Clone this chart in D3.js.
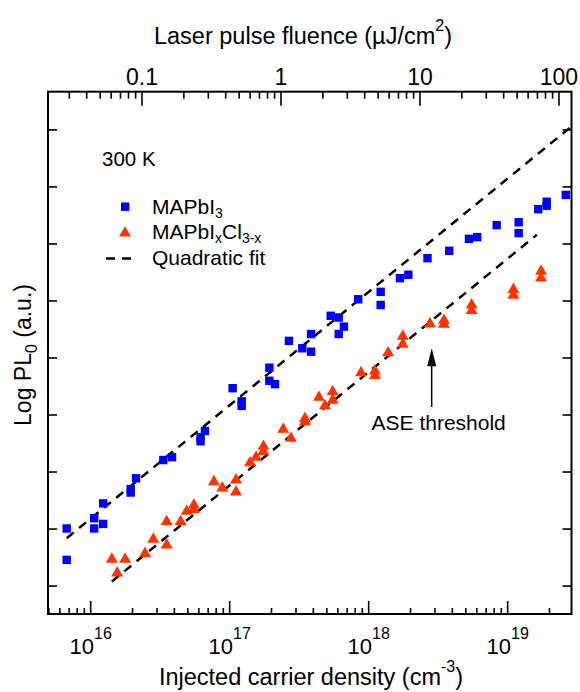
<!DOCTYPE html>
<html>
<head>
<meta charset="utf-8">
<script src="https://cdn.jsdelivr.net/npm/d3@7"></script>
<style>
  body { margin: 0; background: #fff; }
  text { font-family: "Liberation Sans", Arial, Helvetica, sans-serif; fill: #000; }
</style>
</head>
<body>
<svg id="chart" width="580" height="692"></svg>
<script>
// injected carrier density (cm^-3) and log10 of PL0 (a.u.)
const mapbi3Density = [6.72e15, 6.72e15, 1.06e16, 1.06e16, 1.23e16, 1.23e16, 1.94e16, 1.94e16, 2.12e16,
  3.33e16, 3.85e16, 6.17e16, 6.17e16, 6.64e16, 1.05e17, 1.22e17, 1.22e17, 1.93e17, 1.93e17, 2.12e17,
  2.67e17, 3.33e17, 3.85e17, 3.85e17, 5.33e17, 6.09e17, 6.64e17, 6.09e17, 8.41e17, 1.22e18, 1.22e18,
  1.68e18, 1.93e18, 2.65e18, 3.80e18, 5.27e18, 6.04e18, 8.34e18, 1.20e19, 1.20e19, 1.66e19, 1.91e19,
  1.91e19, 2.62e19];
const mapbi3LogPL = [1.01, 0.46, 1.19, 1.01, 1.09, 1.45, 1.70, 1.64, 1.89,
  2.21, 2.26, 2.61, 2.54, 2.72, 3.47, 3.24, 3.16, 3.83, 3.60, 3.54,
  4.30, 4.17, 4.42, 4.11, 4.74, 4.71, 4.55, 4.42, 5.03, 5.16, 4.93,
  5.40, 5.46, 5.75, 5.88, 6.09, 6.12, 6.33, 6.38, 6.19, 6.61, 6.74,
  6.67, 6.86];

const mixedDensity = [1.42e16, 1.55e16, 1.77e16, 2.46e16, 2.82e16, 3.52e16, 3.52e16, 4.44e16, 4.91e16,
  5.53e16, 5.53e16, 7.71e16, 8.85e16, 1.11e17, 1.11e17, 1.40e17, 1.55e17, 1.75e17, 1.75e17, 2.43e17,
  2.76e17, 3.48e17, 3.48e17, 4.39e17, 4.85e17, 5.51e17, 5.51e17, 8.81e17, 1.11e18, 1.11e18, 1.38e18,
  1.76e18, 1.76e18, 2.76e18, 3.48e18, 3.48e18, 5.51e18, 5.51e18, 1.10e19, 1.10e19, 1.74e19, 1.74e19];
const mixedLogPL = [0.49, 0.25, 0.49, 0.59, 0.84, 0.74, 1.15, 1.15, 1.33,
  1.44, 1.36, 1.85, 1.74, 1.88, 1.67, 2.18, 2.28, 2.47, 2.38, 2.77,
  2.61, 2.96, 2.90, 3.33, 3.18, 3.43, 3.28, 3.76, 3.79, 3.71, 4.11,
  4.40, 4.26, 4.62, 4.68, 4.61, 4.95, 4.85, 5.22, 5.12, 5.54, 5.42];

// quadratic fits (end points)
const fitUpperDensity = [6.72e15, 2.88e19];
const fitUpperLogPL = [0.84, 8.06];
const fitLowerDensity = [1.42e16, 1.62e19];
const fitLowerLogPL = [0.08, 6.16];

const densityDomain = [4.93e15, 2.88e19];
const logPLDomain = [-0.49, 8.67];
const logPLTicks = [0, 1, 2, 3, 4, 5, 6, 7, 8];
const densityLabels = [1e16, 1e17, 1e18, 1e19];
const fluenceLabels = [0.1, 1, 10, 100];
const densityPerFluence = 2.34e17; // cm^-3 per uJ/cm^2

const aseDensity = 2.84e18;
const aseArrowLogPL = [3.14, 4.17];

const blue = "#0000ff";
const red = "#ff3300";

const margin = { top: 91.7, right: 8.5, bottom: 78, left: 48 };
const width = 580 - margin.left - margin.right;
const height = 692 - margin.top - margin.bottom;

const svg = d3.select("#chart");
const g = svg.append("g").attr("transform", "translate(" + margin.left + "," + margin.top + ")");

const x = d3.scaleLog().domain(densityDomain).range([0, width]);
const xTop = d3.scaleLog().domain(densityDomain.map(d => d / densityPerFluence)).range([0, width]);
const y = d3.scaleLinear().domain(logPLDomain).range([height, 0]);

function isDecade(v) {
  const l = Math.log10(v);
  return Math.abs(l - Math.round(l)) < 1e-6;
}

// bottom ticks (inward)
g.selectAll(".xb").data(x.ticks()).enter().append("line")
  .attr("x1", d => x(d)).attr("x2", d => x(d))
  .attr("y1", height).attr("y2", d => height - (isDecade(d) ? 13 : 6))
  .attr("stroke", "#000").attr("stroke-width", 1.6);

// top ticks (inward)
g.selectAll(".xt").data(xTop.ticks()).enter().append("line")
  .attr("x1", d => xTop(d)).attr("x2", d => xTop(d))
  .attr("y1", 0).attr("y2", d => isDecade(d) ? 14 : 7)
  .attr("stroke", "#000").attr("stroke-width", 1.6);

// left/right ticks
logPLTicks.forEach(function (t) {
  g.append("line").attr("x1", 0).attr("x2", 9).attr("y1", y(t)).attr("y2", y(t))
    .attr("stroke", "#000").attr("stroke-width", 1.6);
  g.append("line").attr("x1", width).attr("x2", width - 9).attr("y1", y(t)).attr("y2", y(t))
    .attr("stroke", "#000").attr("stroke-width", 1.6);
});

// frame
g.append("rect").attr("width", width).attr("height", height)
  .attr("fill", "none").attr("stroke", "#000").attr("stroke-width", 2);

// bottom labels 10^n
densityLabels.forEach(function (d) {
  const t = g.append("text").attr("x", x(d)).attr("y", height + 40)
    .attr("text-anchor", "middle").style("font-size", "22px");
  t.append("tspan").text("10");
  t.append("tspan").attr("dy", -15).style("font-size", "16px").text(Math.round(Math.log10(d)));
});

// top labels
g.selectAll(".tl").data(fluenceLabels).enter().append("text")
  .attr("x", d => xTop(d)).attr("y", -7)
  .attr("text-anchor", "middle").style("font-size", "23px")
  .text(d => d);

// axis titles
const bt = svg.append("text").attr("x", 311).attr("y", 685)
  .attr("text-anchor", "middle").style("font-size", "23.5px");
bt.append("tspan").text("Injected carrier density (cm");
bt.append("tspan").attr("dy", -13).style("font-size", "16px").text("-3");
bt.append("tspan").attr("dy", 13).text(")");

const tt = svg.append("text").attr("x", 303).attr("y", 44)
  .attr("text-anchor", "middle").style("font-size", "23.5px");
tt.append("tspan").text("Laser pulse fluence (\u00b5J/cm");
tt.append("tspan").attr("dy", -13).style("font-size", "16px").text("2");
tt.append("tspan").attr("dy", 13).text(")");

const yt = svg.append("text").attr("transform", "translate(31,355) rotate(-90)")
  .attr("text-anchor", "middle").style("font-size", "23px");
yt.append("tspan").text("Log PL");
yt.append("tspan").attr("dy", 6).style("font-size", "16px").text("0");
yt.append("tspan").attr("dy", -6).text(" (a.u.)");

// quadratic fit lines
const line = d3.line().x(d => x(d[0])).y(d => y(d[1]));
[[fitUpperDensity, fitUpperLogPL], [fitLowerDensity, fitLowerLogPL]].forEach(function (f) {
  g.append("path").datum(d3.zip(f[0], f[1])).attr("d", line)
    .attr("fill", "none").attr("stroke", "#000").attr("stroke-width", 2.5)
    .attr("stroke-dasharray", "9,7");
});

// markers
const triPath = "M0,-5.8L6,4.6L-6,4.6Z";
g.selectAll(".sq").data(d3.zip(mapbi3Density, mapbi3LogPL)).enter().append("rect")
  .attr("x", d => x(d[0]) - 4.2).attr("y", d => y(d[1]) - 4.2)
  .attr("width", 8.4).attr("height", 8.4).attr("fill", blue);
g.selectAll(".tri").data(d3.zip(mixedDensity, mixedLogPL)).enter().append("path")
  .attr("d", triPath)
  .attr("transform", d => "translate(" + x(d[0]) + "," + y(d[1]) + ")")
  .attr("fill", red);

// ASE threshold arrow
const ax = x(aseDensity);
g.append("line").attr("x1", ax).attr("x2", ax)
  .attr("y1", y(aseArrowLogPL[0])).attr("y2", y(aseArrowLogPL[1]) + 16)
  .attr("stroke", "#000").attr("stroke-width", 1.5);
g.append("path")
  .attr("d", "M" + ax + "," + y(aseArrowLogPL[1]) + "l4.5,18l-9,0Z")
  .attr("fill", "#000");
g.append("text").attr("x", ax + 7).attr("y", y(aseArrowLogPL[0]) + 23)
  .attr("text-anchor", "middle").style("font-size", "21px").text("ASE threshold");

// legend
const lg = svg.append("g");
lg.append("text").attr("x", 102).attr("y", 166).style("font-size", "20.5px").text("300 K");
lg.append("rect").attr("x", 121).attr("y", 202.5).attr("width", 8.4).attr("height", 8.4).attr("fill", blue);
const l1 = lg.append("text").attr("x", 152).attr("y", 214).style("font-size", "21px");
l1.append("tspan").text("MAPbI");
l1.append("tspan").attr("dy", 4).style("font-size", "14px").text("3");
lg.append("path").attr("d", triPath).attr("transform", "translate(125,232)").attr("fill", red);
const l2 = lg.append("text").attr("x", 152).attr("y", 239).style("font-size", "21px");
l2.append("tspan").text("MAPbI");
l2.append("tspan").attr("dy", 4).style("font-size", "14px").text("x");
l2.append("tspan").attr("dy", -4).text("Cl");
l2.append("tspan").attr("dy", 4).style("font-size", "14px").text("3-x");
lg.append("line").attr("x1", 106).attr("x2", 137).attr("y1", 258.5).attr("y2", 258.5)
  .attr("stroke", "#000").attr("stroke-width", 2.5).attr("stroke-dasharray", "9,7");
lg.append("text").attr("x", 152).attr("y", 265).style("font-size", "21px").text("Quadratic fit");
</script>
</body>
</html>
